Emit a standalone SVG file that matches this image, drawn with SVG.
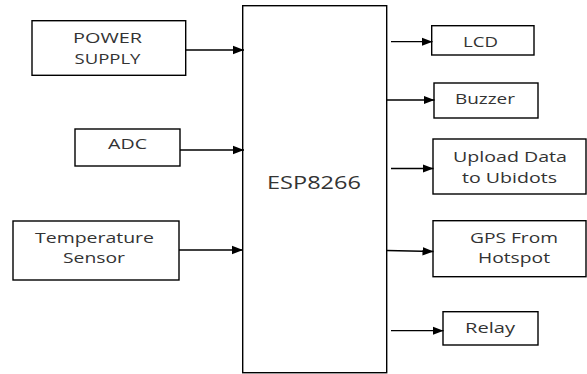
<svg xmlns="http://www.w3.org/2000/svg" width="587" height="374" viewBox="0 0 587 374">
<style>
.box{fill:#fff;stroke:#000;stroke-width:1.4}
.t{font-family:"Open Sans","DejaVu Sans",sans-serif;font-size:14px;fill:#333;text-anchor:middle}
.big{font-size:18px}
.c{stroke:#000;stroke-width:1.3;fill:none;marker-end:url(#ah)}
</style>
<defs>
<marker id="ah" markerUnits="userSpaceOnUse" markerWidth="12" markerHeight="10" viewBox="0 0 12 10" refX="11" refY="5" orient="auto">
<path d="M0,0.8 L11,5 L0,9.2 Z" fill="#000"/>
</marker>
</defs>
<rect width="587" height="374" fill="#fff"/>
<g id="esp8266"><rect class="box" x="242.7" y="5.7" width="144" height="367"/><text class="t big" x="314" y="188.5" textLength="94" lengthAdjust="spacingAndGlyphs">ESP8266</text></g>
<g id="power-supply"><rect class="box" x="32" y="20.7" width="153.7" height="54.6"/><text class="t" x="107.5" y="43" textLength="69" lengthAdjust="spacingAndGlyphs">POWER</text><text class="t" x="107.5" y="64" textLength="66" lengthAdjust="spacingAndGlyphs">SUPPLY</text></g>
<g id="adc"><rect class="box" x="75" y="129" width="105" height="37"/><text class="t" x="127.5" y="149" textLength="39" lengthAdjust="spacingAndGlyphs">ADC</text></g>
<g id="temperature-sensor"><rect class="box" x="13" y="221" width="166" height="59"/><text class="t" x="94.5" y="243" textLength="119" lengthAdjust="spacingAndGlyphs">Temperature</text><text class="t" x="94" y="263" textLength="62" lengthAdjust="spacingAndGlyphs">Sensor</text></g>
<g id="lcd"><rect class="box" x="431.7" y="25.7" width="102.3" height="29.3"/><text class="t" x="480.5" y="46.7" textLength="35" lengthAdjust="spacingAndGlyphs">LCD</text></g>
<g id="buzzer"><rect class="box" x="434" y="83" width="104" height="35"/><text class="t" x="485" y="104" textLength="60" lengthAdjust="spacingAndGlyphs">Buzzer</text></g>
<g id="upload-data"><rect class="box" x="433" y="139" width="153" height="55"/><text class="t" x="510" y="162" textLength="114" lengthAdjust="spacingAndGlyphs">Upload Data</text><text class="t" x="509.5" y="183" textLength="95" lengthAdjust="spacingAndGlyphs">to Ubidots</text></g>
<g id="gps-from-hotspot"><rect class="box" x="433" y="220.7" width="153" height="56"/><text class="t" x="514" y="243" textLength="88" lengthAdjust="spacingAndGlyphs">GPS From</text><text class="t" x="514" y="263" textLength="72" lengthAdjust="spacingAndGlyphs">Hotspot</text></g>
<g id="relay"><rect class="box" x="443" y="311.7" width="95" height="33.3"/><text class="t" x="490" y="333" textLength="50" lengthAdjust="spacingAndGlyphs">Relay</text></g>
<g id="connectors">
<path class="c" d="M185.7,50 H244"/>
<path class="c" d="M180,150 H244"/>
<path class="c" d="M179,250 H243"/>
<path class="c" d="M391,41.7 H432.5"/>
<path class="c" d="M386.7,100 H434.5"/>
<path class="c" d="M391,168.5 H433.5"/>
<path class="c" d="M386.7,250.5 L433.5,251.5"/>
<path class="c" d="M391,330.7 H443.5"/>
</g>
</svg>
